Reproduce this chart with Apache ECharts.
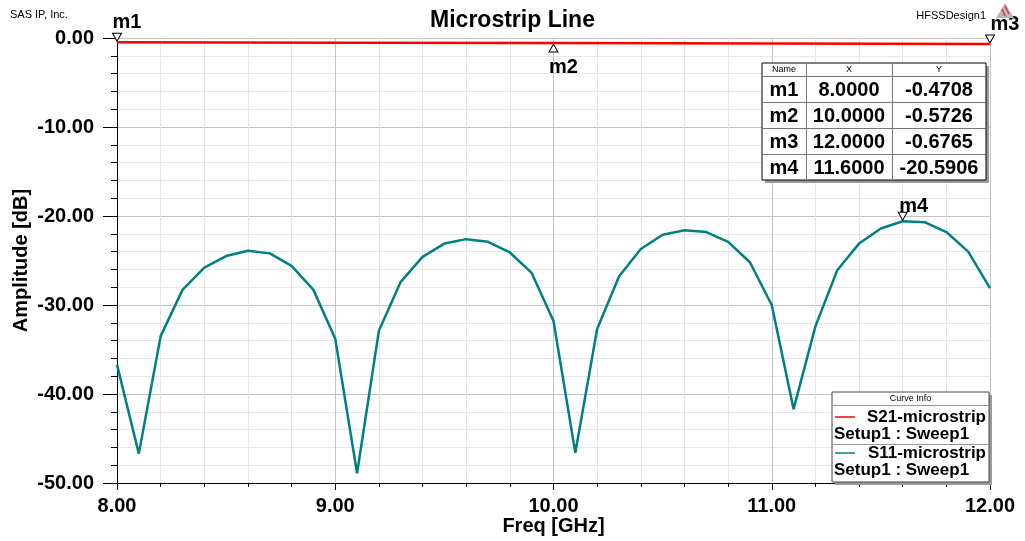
<!DOCTYPE html>
<html>
<head>
<meta charset="utf-8">
<script src="https://cdn.jsdelivr.net/npm/echarts@6/dist/echarts.min.js"></script>
<style>
html,body{margin:0;padding:0;background:#fff;}
#chart{width:1025px;height:541px;}
</style>
</head>
<body>
<div id="chart"></div>
<script>
// ---- data ----
const freqS11 = [8.0,8.1,8.2,8.3,8.4,8.5,8.6,8.7,8.8,8.9,9.0,9.1,9.2,9.3,9.4,9.5,9.6,9.7,9.8,9.9,10.0,10.1,10.2,10.3,10.4,10.5,10.6,10.7,10.8,10.9,11.0,11.1,11.2,11.3,11.4,11.5,11.6,11.7,11.8,11.9,12.0];
const s11 = [-36.7,-46.7,-33.5,-28.3,-25.8,-24.5,-23.9,-24.2,-25.6,-28.3,-33.8,-48.9,-32.9,-27.4,-24.6,-23.1,-22.6,-22.9,-24.1,-26.4,-31.8,-46.6,-32.7,-26.8,-23.7,-22.1,-21.6,-21.8,-22.9,-25.2,-30.0,-41.7,-32.4,-26.1,-23.1,-21.4,-20.59,-20.7,-21.8,-24.0,-28.1];
const freqS21 = [8.0,9.0,10.0,11.0,12.0];
const s21 = [-0.4708,-0.52,-0.5726,-0.62,-0.6765];
const markerNames = ['m1','m2','m3','m4'];
const markerX = [8.0,10.0,12.0,11.6];
const markerY = [-0.4708,-0.5726,-0.6765,-20.5906];
const markerXText = ['8.0000','10.0000','12.0000','11.6000'];
const markerYText = ['-0.4708','-0.5726','-0.6765','-20.5906'];
const seriesNames = ['S21-microstrip','S11-microstrip'];
const setupName = 'Setup1 : Sweep1';
const titleText = 'Microstrip Line';
const xName = 'Freq [GHz]';
const yName = 'Amplitude [dB]';

const FONT = '"Liberation Sans", Arial, sans-serif';
const triDown = 'path://M0,0 L10,0 L5,9 Z';
const triUp = 'path://M5,0 L10,9 L0,9 Z';

function mp(i, up, dx, dy) {
  return {
    coord: [markerX[i], markerY[i]],
    symbol: up ? triUp : triDown,
    symbolSize: [9, 8],
    symbolOffset: [0, up ? 5 : -5],
    itemStyle: {color: '#fff', borderColor: '#000', borderWidth: 1},
    label: {show: true, position: 'inside', offset: [dx, dy], formatter: markerNames[i],
      color: '#000', fontFamily: FONT, fontWeight: 'bold', fontSize: 20}
  };
}

const chart = echarts.init(document.getElementById('chart'), null, {renderer: 'canvas'});

// table graphics
const tL = 762, tT = 63, tR = 986, tHead = 13, tRow = 26;
const cols = [762, 806, 892, 986];
const tB = tT + tHead + tRow * 4;
const g = [];
g.push({type:'rect', shape:{x:tL+3,y:tT+3,width:tR-tL,height:tB-tT}, style:{fill:'#9a9a9a'}, z:100});
g.push({type:'rect', shape:{x:tL,y:tT,width:tR-tL,height:tB-tT}, style:{fill:'#fff',stroke:'#000',lineWidth:1}, z:101});
for (let r = 0; r < 4; r++) {
  const y = tT + tHead + r * tRow;
  g.push({type:'line', shape:{x1:tL,y1:y+0.5,x2:tR,y2:y+0.5}, style:{stroke:'#777',lineWidth:1}, z:102});
}
for (let c = 1; c < 3; c++) {
  g.push({type:'line', shape:{x1:cols[c]+0.5,y1:tT,x2:cols[c]+0.5,y2:tB}, style:{stroke:'#777',lineWidth:1}, z:102});
}
const heads = ['Name','X','Y'];
for (let c = 0; c < 3; c++) {
  g.push({type:'text', x:(cols[c]+cols[c+1])/2, y:tT+tHead/2+0.5, style:{text:heads[c], font:'9px '+FONT, fill:'#000', align:'center', verticalAlign:'middle'}, z:103});
}
for (let r = 0; r < 4; r++) {
  const cy = tT + tHead + r * tRow + tRow/2 + 1;
  const vals = [markerNames[r], markerXText[r], markerYText[r]];
  for (let c = 0; c < 3; c++) {
    g.push({type:'text', x:(cols[c]+cols[c+1])/2, y:cy, style:{text:vals[c], font:'bold 20px '+FONT, fill:'#000', align:'center', verticalAlign:'middle'}, z:103});
  }
}
// legend box
const lL = 832, lT = 392, lR = 989, lB = 482;
g.push({type:'rect', shape:{x:lL+3,y:lT+3,width:lR-lL,height:lB-lT}, style:{fill:'#9a9a9a'}, z:100});
g.push({type:'rect', shape:{x:lL,y:lT,width:lR-lL,height:lB-lT}, style:{fill:'#fff',stroke:'#444',lineWidth:1}, z:101});
g.push({type:'text', x:(lL+lR)/2, y:399, style:{text:'Curve Info', font:'9px '+FONT, fill:'#000', align:'center', verticalAlign:'middle'}, z:103});
g.push({type:'line', shape:{x1:lL,y1:405.5,x2:lR,y2:405.5}, style:{stroke:'#999',lineWidth:1}, z:102});
g.push({type:'line', shape:{x1:lL,y1:444.5,x2:lR,y2:444.5}, style:{stroke:'#999',lineWidth:1}, z:102});
const legColors = ['#ff0000','#008080'];
const legY = [417, 453];
for (let i = 0; i < 2; i++) {
  g.push({type:'line', shape:{x1:835,y1:legY[i],x2:855,y2:legY[i]}, style:{stroke:legColors[i],lineWidth:1.5}, z:103});
  g.push({type:'text', x:986, y:legY[i], style:{text:seriesNames[i], font:'bold 17px '+FONT, fill:'#000', align:'right', verticalAlign:'middle'}, z:103});
  g.push({type:'text', x:834, y:legY[i]+17.5, style:{text:setupName, font:'bold 17px '+FONT, fill:'#000', align:'left', verticalAlign:'middle'}, z:103});
}
// corner texts
g.push({type:'text', x:10, y:15, style:{text:'SAS IP, Inc.', font:'11px '+FONT, fill:'#000', align:'left', verticalAlign:'middle'}, z:103});
g.push({type:'text', x:986, y:16, style:{text:'HFSSDesign1', font:'11px '+FONT, fill:'#000', align:'right', verticalAlign:'middle'}, z:103});
// logo
g.push({type:'polygon', shape:{points:[[1005,3],[1014,18],[996,18]]}, style:{fill:'#b8b8b8'}, z:99});
g.push({type:'polyline', shape:{points:[[1002,9],[1005,16]]}, style:{stroke:'#e03030',lineWidth:1.5}, z:99});
g.push({type:'polyline', shape:{points:[[1005,6],[1009,14]]}, style:{stroke:'#e03030',lineWidth:1.5}, z:99});

const option = {
  backgroundColor: '#fff',
  animation: false,
  title: {text: titleText, left: 'center', top: 4,
    textStyle: {fontFamily: FONT, fontWeight: 'bold', fontSize: 23, color: '#000'}},
  grid: {left: 117, right: 35, top: 38, bottom: 58, containLabel: false, outerBoundsMode: 'none'},
  xAxis: {
    type: 'value', min: 8, max: 12, interval: 1,
    name: xName, nameLocation: 'middle', nameGap: 33, nameMoveOverlap: false,
    nameTextStyle: {fontFamily: FONT, fontWeight: 'bold', fontSize: 20, color: '#000'},
    axisLine: {onZero: false, lineStyle: {color: '#000', width: 1}},
    axisTick: {show: true, length: 7, inside: false, lineStyle: {color: '#000'}},
    minorTick: {show: true, splitNumber: 5, length: 4, lineStyle: {color: '#000'}},
    axisLabel: {formatter: v => v.toFixed(2), fontFamily: FONT, fontWeight: 'bold', fontSize: 20, color: '#000', margin: 13},
    splitLine: {show: true, lineStyle: {color: '#c4c4c4', width: 1}},
    minorSplitLine: {show: true, lineStyle: {color: '#e6e6e6', width: 1}}
  },
  yAxis: {
    type: 'value', min: -50, max: 0, interval: 10,
    name: yName, nameLocation: 'middle', nameGap: 86, nameRotate: 90, nameMoveOverlap: false,
    nameTextStyle: {fontFamily: FONT, fontWeight: 'bold', fontSize: 20, color: '#000'},
    axisLine: {show: true, onZero: false, lineStyle: {color: '#000', width: 1}},
    axisTick: {show: true, length: 14, lineStyle: {color: '#000'}},
    minorTick: {show: true, splitNumber: 5, length: 6, lineStyle: {color: '#000'}},
    axisLabel: {formatter: v => v.toFixed(2), fontFamily: FONT, fontWeight: 'bold', fontSize: 20, color: '#000', margin: 23},
    splitLine: {show: true, lineStyle: {color: '#c4c4c4', width: 1}},
    minorSplitLine: {show: true, lineStyle: {color: '#e6e6e6', width: 1}}
  },
  graphic: g,
  series: [
    {
      name: seriesNames[0], type: 'line', showSymbol: false, symbol: 'none',
      data: freqS21.map((f, i) => [f, s21[i]]),
      lineStyle: {color: '#ff0000', width: 2.5}, itemStyle: {color: '#ff0000'}, z: 5,
      markPoint: {data: [mp(0,false,10,-15), mp(1,true,10,19), mp(2,false,15,-15)]}
    },
    {
      name: seriesNames[1], type: 'line', showSymbol: false, symbol: 'none',
      data: freqS11.map((f, i) => [f, s11[i]]),
      lineStyle: {color: '#008080', width: 2.5}, itemStyle: {color: '#008080'}, z: 4,
      markPoint: {data: [mp(3,false,11,-10)]}
    }
  ]
};
chart.setOption(option);
</script>
</body>
</html>
